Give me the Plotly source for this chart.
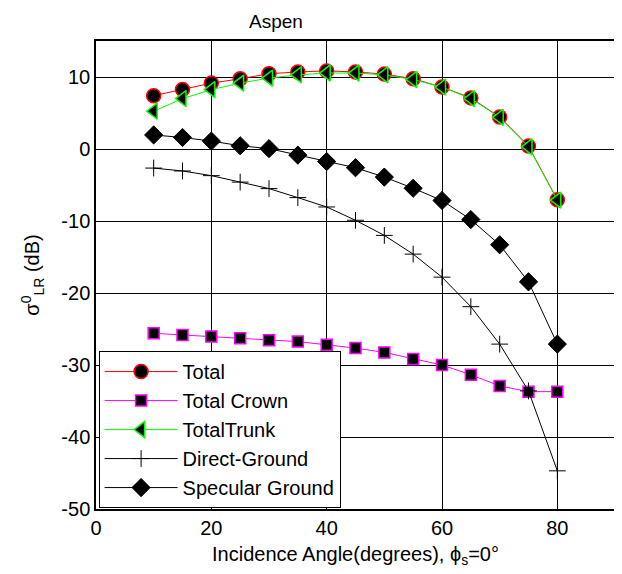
import plotly.graph_objects as go

angles = [10, 15, 20, 25, 30, 35, 40, 45, 50, 55, 60, 65, 70, 75, 80]
total = [7.4, 8.25, 9.15, 9.75, 10.45, 10.7, 10.85, 10.7, 10.4, 9.75, 8.6, 7.1, 4.45, 0.4, -7.05]
total_crown = [-25.6, -25.85, -26.05, -26.3, -26.55, -26.75, -27.2, -27.65, -28.25, -29.15, -30.0, -31.35, -32.9, -33.7, -33.7]
total_trunk = [5.25, 7.0, 8.25, 9.15, 9.85, 10.3, 10.55, 10.55, 10.3, 9.65, 8.6, 7.0, 4.4, 0.3, -7.1]
direct_ground = [-2.65, -3.05, -3.7, -4.6, -5.5, -6.75, -8.05, -9.9, -12.0, -14.6, -17.8, -21.9, -27.1, -33.6, -44.7]
specular_ground = [1.95, 1.6, 1.1, 0.45, 0.05, -0.85, -1.75, -2.6, -3.9, -5.45, -7.15, -9.8, -13.3, -18.45, -27.1]

x_ticks = [0, 20, 40, 60, 80]
y_ticks = [-50, -40, -30, -20, -10, 0, 10]

FONT = "Arial, Liberation Sans, sans-serif"
FS = 20

fig = go.Figure()
fig.add_trace(go.Scatter(
    x=angles, y=total, name="Total", mode="lines+markers",
    line=dict(color="#ff0000", width=1),
    marker=dict(symbol="circle", size=14, color="black", line=dict(color="#ff0000", width=1.5))))
fig.add_trace(go.Scatter(
    x=angles, y=total_crown, name="Total Crown", mode="lines+markers",
    line=dict(color="#ff00ff", width=1),
    marker=dict(symbol="square", size=11, color="black", line=dict(color="#ff00ff", width=1.5))))
fig.add_trace(go.Scatter(
    x=angles, y=total_trunk, name="TotalTrunk", mode="lines+markers",
    line=dict(color="#00ff00", width=1),
    marker=dict(symbol="triangle-left", size=14, color="black", line=dict(color="#00ff00", width=1.5))))
fig.add_trace(go.Scatter(
    x=angles, y=direct_ground, name="Direct-Ground", mode="lines+markers",
    line=dict(color="black", width=1),
    marker=dict(symbol="cross-thin", size=12, color="black", line=dict(color="black", width=1))))
fig.add_trace(go.Scatter(
    x=angles, y=specular_ground, name="Specular Ground", mode="lines+markers",
    line=dict(color="black", width=1),
    marker=dict(symbol="diamond", size=14, color="black", line=dict(color="black", width=1))))

axis_common = dict(
    showgrid=True, gridcolor="black", gridwidth=1,
    showline=True, linecolor="black", linewidth=1.5, mirror="ticks",
    ticks="inside", ticklen=5, tickcolor="black",
    zeroline=False, automargin=False,
    tickfont=dict(family=FONT, size=FS, color="black"),
)

fig.update_layout(
    width=614, height=566,
    margin=dict(l=88, r=7, t=33, b=65),
    paper_bgcolor="white", plot_bgcolor="white",
    font=dict(family=FONT, size=FS, color="black"),
    xaxis=dict(range=[0, 90], tickvals=x_ticks, ticktext=[str(v) for v in x_ticks],
               title=dict(text="Incidence Angle(degrees), ϕ<sub>s</sub>=0°",
                          font=dict(family=FONT, size=FS), standoff=9),
               **axis_common),
    yaxis=dict(range=[-50, 15], tickvals=y_ticks, ticktext=[str(v) for v in y_ticks],
               title=dict(text="σ<sup>0</sup><sub>LR</sub> (dB)",
                          font=dict(family=FONT, size=FS), standoff=16),
               **axis_common),
    legend=dict(x=0.005, y=0.002, xanchor="left", yanchor="bottom",
                bgcolor="white", bordercolor="black", borderwidth=1,
                font=dict(family=FONT, size=FS, color="black"),
                itemwidth=73, tracegroupgap=0),
    showlegend=True,
    annotations=[dict(text="Aspen", xref="paper", yref="paper",
                      x=(268 - 88) / 519, y=1.0, xanchor="center", yanchor="bottom",
                      yshift=8, showarrow=False, borderpad=0,
                      font=dict(family=FONT, size=19, color="black"))],
)

fig.write_html("out.html")
